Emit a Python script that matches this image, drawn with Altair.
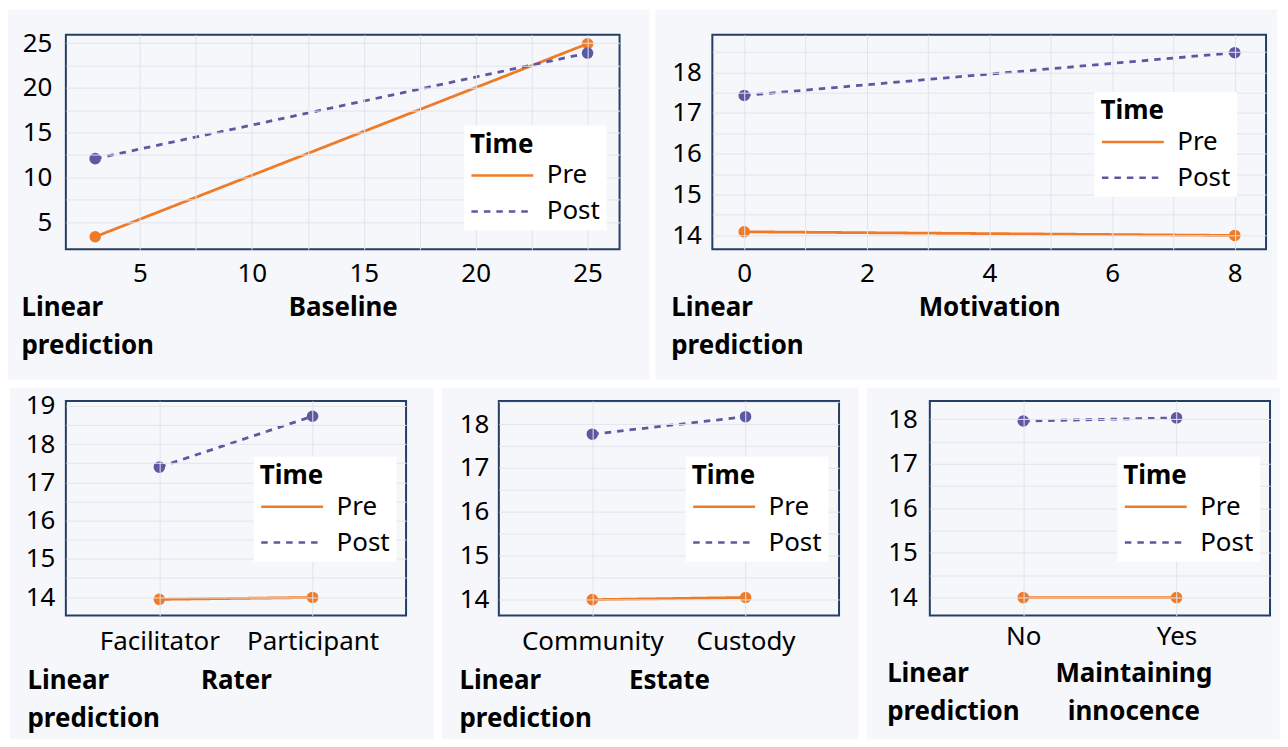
import altair as alt
import pandas as pd

ORANGE = "#EF7B28"
PURPLE = "#5C58A2"
NAVY = "#243F66"
BG = "#F6F7FA"
GRID = "#E1E4EC"
FONT = "Noto Sans"

times = ["Pre", "Post"]

# Panel 1: Baseline
baseline_x = [3, 25]
baseline_pre = [3.36, 24.93]
baseline_post = [12.09, 23.89]
baseline_ticks = [5, 7.5, 10, 12.5, 15, 17.5, 20, 22.5, 25]

# Panel 2: Motivation
motivation_x = [0, 8]
motivation_pre = [14.08, 13.99]
motivation_post = [17.43, 18.48]
motivation_xticks = [0, 1, 2, 3, 4, 5, 6, 7, 8]
motivation_yticks = [14, 14.5, 15, 15.5, 16, 16.5, 17, 17.5, 18, 18.5]

# Panel 3: Rater
rater_cats = ["Facilitator", "Participant"]
rater_pre = [13.94, 13.99]
rater_post = [17.40, 18.73]
rater_yticks = [14, 14.5, 15, 15.5, 16, 16.5, 17, 17.5, 18, 18.5, 19]

# Panel 4: Estate
estate_cats = ["Community", "Custody"]
estate_pre = [13.99, 14.04]
estate_post = [17.77, 18.17]
estate_yticks = [14, 14.5, 15, 15.5, 16, 16.5, 17, 17.5, 18, 18.5]

# Panel 5: Maintaining innocence
mi_cats = ["No", "Yes"]
mi_pre = [14.0, 14.0]
mi_post = [17.96, 18.03]
mi_yticks = [14, 14.5, 15, 15.5, 16, 16.5, 17, 17.5, 18]

# legend symbol: a horizontal stroke, ~62 px long
LEG_PATH = "M-3,0H3"
LEG_SIZE = (62 / 3) ** 2


def make_df(xs, pre, post):
    rows = []
    for t, ys in zip(times, [pre, post]):
        for x, y in zip(xs, ys):
            rows.append({"x": x, "y": y, "Time": t})
    return pd.DataFrame(rows)


def panel(df, W, H, bgbox, legxy, ytitle_xy, xtitle, xtitle_xy,
          xlabpad, ylabpad, xtype="quantitative", xscale=None, xvals=None,
          xlabexpr=None, yscale=None, yvals=None, ylabexpr=None):
    bx1, bx2, by1, by2 = bgbox
    bg = alt.Chart(pd.DataFrame({"k": [0]})).mark_rect(fill=BG).encode(
        x=alt.value(bx1), x2=alt.value(bx2), y=alt.value(by1), y2=alt.value(by2)
    )
    border = alt.Chart(pd.DataFrame({"k": [0]})).mark_rect(
        fillOpacity=0, stroke=NAVY, strokeWidth=2
    ).encode(x=alt.value(0), x2=alt.value(W), y=alt.value(0), y2=alt.value(H))

    leg = alt.Legend(
        orient="none", legendX=legxy[0], legendY=legxy[1], title="Time",
        symbolType=LEG_PATH, symbolSize=LEG_SIZE, symbolStrokeWidth=2.5,
        symbolOffset=19.5,
        labelOffset=31.5, labelFontSize=26, labelFont=FONT, labelColor="black",
        titleFontSize=26, titleFont=FONT, titleFontWeight="bold",
        titleColor="black", fillColor="white", padding=6, rowPadding=10,
        titlePadding=5, zindex=2,
    )

    xaxis_kw = dict(
        grid=True, gridColor=GRID, gridWidth=1, ticks=False, tickSize=0,
        domain=False, labelPadding=xlabpad, labelFontSize=26, labelFont=FONT,
        labelColor="black", labelFlush=False, labelOverlap=False, labelAngle=0,
        title=xtitle, titleFontSize=26, titleFont=FONT, titleFontWeight="bold",
        titleColor="black", titleAlign="center", titleBaseline="alphabetic",
        titleX=xtitle_xy[0], titleY=xtitle_xy[1], titleLineHeight=38, zindex=1,
    )
    if xvals is not None:
        xaxis_kw["values"] = xvals
        xaxis_kw["format"] = ".0f"
    if xlabexpr is not None:
        xaxis_kw["labelExpr"] = xlabexpr

    yaxis_kw = dict(
        grid=True, gridColor=GRID, gridWidth=1, ticks=False, tickSize=0,
        domain=False, labelPadding=ylabpad, labelFontSize=26, labelFont=FONT,
        labelColor="black", labelFlush=False, labelOverlap=False,
        values=yvals, format=".0f", labelExpr=ylabexpr,
        title=["Linear", "prediction"], titleAngle=0, titleAlign="left",
        titleBaseline="alphabetic", titleX=ytitle_xy[0], titleY=ytitle_xy[1],
        titleLineHeight=38, titleFontSize=26, titleFont=FONT,
        titleFontWeight="bold", titleColor="black", zindex=1,
    )

    xenc = alt.X("x", type=xtype, scale=xscale, axis=alt.Axis(**xaxis_kw))
    yenc = alt.Y("y:Q", scale=yscale, axis=alt.Axis(**yaxis_kw))
    cenc = alt.Color("Time:N", scale=alt.Scale(domain=times, range=[ORANGE, PURPLE]), legend=leg)

    lines = alt.Chart(df).mark_line(strokeWidth=2.8).encode(
        x=xenc, y=yenc, color=cenc,
        strokeDash=alt.StrokeDash("Time:N", scale=alt.Scale(domain=times, range=[[1, 0], [6.5, 6]]), legend=leg),
    )
    points = alt.Chart(df).mark_circle(size=135, opacity=1).encode(
        x=xenc, y=yenc, color=cenc,
    )
    return alt.layer(bg, lines, points, border).properties(width=W, height=H)


p1 = panel(
    make_df(baseline_x, baseline_pre, baseline_post), 555, 215,
    (-58, 585, -25.3, 345.7), (399, 91),
    (-45, 281.7), "Baseline", (277.5, 66.7), 11, 14,
    xscale=alt.Scale(domain=[1.69, 26.43], nice=False, zero=False),
    xvals=baseline_ticks, xlabexpr="datum.value % 5 == 0 ? datum.label : ''",
    yscale=alt.Scale(domain=[1.96, 25.93], nice=False, zero=False),
    yvals=baseline_ticks, ylabexpr="datum.value % 5 == 0 ? datum.label : ''",
)

p2 = panel(
    make_df(motivation_x, motivation_pre, motivation_post), 555, 215,
    (-57, 566, -25.3, 345.7), (383, 57.4),
    (-41.7, 281.7), "Motivation", (277.5, 66.7), 11, 11,
    xscale=alt.Scale(domain=[-0.52, 8.51], nice=False, zero=False),
    xvals=motivation_xticks, xlabexpr="datum.value % 2 == 0 ? datum.label : ''",
    yscale=alt.Scale(domain=[13.65, 18.92], nice=False, zero=False),
    yvals=motivation_yticks, ylabexpr="datum.value % 1 == 0 ? datum.label : ''",
)

p3 = panel(
    make_df(rater_cats, rater_pre, rater_post), 341, 215,
    (-56, 368.7, -13, 339), (188.3, 56),
    (-39, 288.3), "Rater", (170.5, 73), 13.5, 11,
    xtype="nominal", xscale=alt.Scale(type="point", domain=rater_cats, padding=0.61),
    yscale=alt.Scale(domain=[13.52, 19.13], nice=False, zero=False),
    yvals=rater_yticks, ylabexpr="datum.value % 1 == 0 ? datum.label : ''",
)

p4 = panel(
    make_df(estate_cats, estate_pre, estate_post), 341, 215,
    (-57, 360.6, -13, 339), (187.3, 56),
    (-40, 288.3), "Estate", (170.5, 73), 13.5, 10,
    xtype="nominal", xscale=alt.Scale(type="point", domain=estate_cats, padding=0.61),
    yscale=alt.Scale(domain=[13.63, 18.53], nice=False, zero=False),
    yvals=estate_yticks, ylabexpr="datum.value % 1 == 0 ? datum.label : ''",
)

p5 = panel(
    make_df(mi_cats, mi_pre, mi_post), 341, 215,
    (-63, 350.7, -13, 339), (188, 56),
    (-43.3, 281.7), ["Maintaining", "innocence"], (204, 66.4), 8, 12.5,
    xtype="nominal", xscale=alt.Scale(type="point", domain=mi_cats, padding=0.61),
    yscale=alt.Scale(domain=[13.6, 18.41], nice=False, zero=False),
    yvals=mi_yticks, ylabexpr="datum.value % 1 == 0 ? datum.label : ''",
)

indep = dict(x="independent", y="independent", color="independent", strokeDash="independent")

top = alt.hconcat(p1, p2, spacing=6).resolve_scale(**indep)
bottom = alt.hconcat(p3, p4, p5, spacing=8).resolve_scale(**indep)

chart = (
    alt.vconcat(top, bottom, spacing=8)
    .resolve_scale(**indep)
    .properties(padding=0, background="white")
    .configure(font=FONT)
    .configure_view(strokeOpacity=0)
)

chart.save("out.html", embed_options={"renderer": "svg", "actions": False})
